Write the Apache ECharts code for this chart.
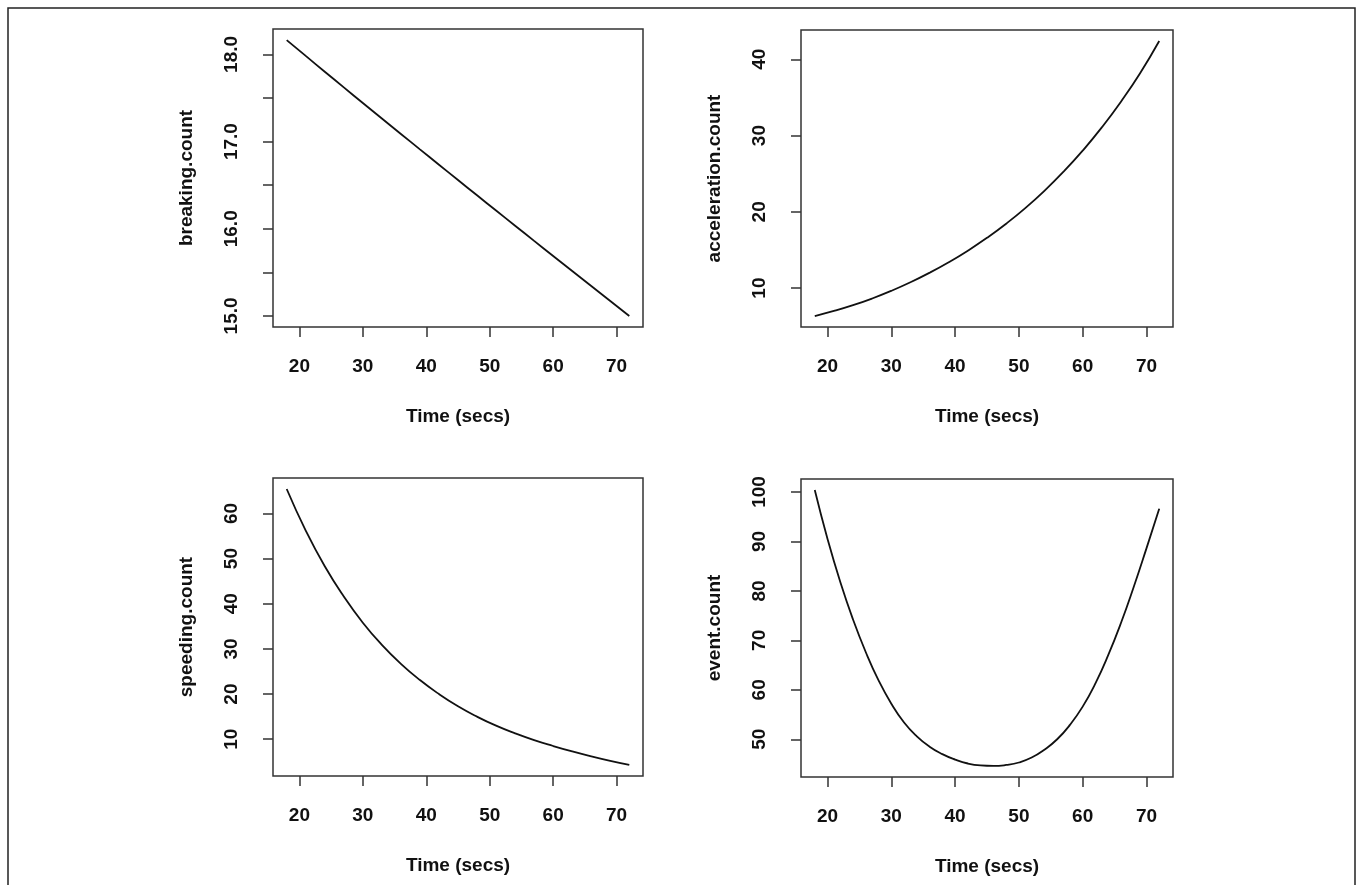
<!DOCTYPE html>
<html>
<head>
<meta charset="utf-8">
<title>count vs time</title>
<script src="https://cdn.jsdelivr.net/npm/echarts@6/dist/echarts.min.js"></script>
<style>
  html, body { margin: 0; padding: 0; background: #fff; }
  #chart { width: 1357px; height: 885px; }
</style>
</head>
<body>
<div id="chart"></div>
<script>
// time points (secs)
const times3 = [18, 21, 24, 27, 30, 33, 36, 39, 42, 45, 48, 51, 54, 57, 60, 63, 66, 69, 72]
const times2 = [18, 20, 22, 24, 26, 28, 30, 32, 34, 36, 38, 40, 42, 44, 46, 48, 50, 52, 54, 56, 58, 60, 62, 64, 66, 68, 70, 72]

// values
const breakingCount = [18.165, 17.983, 17.802, 17.622, 17.443, 17.265, 17.088, 16.911, 16.735, 16.559, 16.384, 16.209, 16.035, 15.861, 15.688, 15.515, 15.343, 15.171, 15.000]
const accelerationCount = [6.34, 7.00, 7.76, 8.64, 9.64, 10.76, 12.01, 13.39, 14.91, 16.59, 18.44, 20.49, 22.76, 25.26, 28.02, 31.07, 34.44, 38.17, 42.40]
const speedingCount = [65.4, 56.2, 48.3, 41.6, 35.8, 30.9, 26.7, 23.1, 20.0, 17.3, 15.0, 13.0, 11.3, 9.8, 8.5, 7.3, 6.2, 5.2, 4.3]
const eventCount = [100.4, 90.5, 81.8, 74.2, 67.6, 61.9, 57.2, 53.4, 50.6, 48.5, 47.0, 45.9, 45.1, 44.7, 44.6, 44.8, 45.3, 46.3, 47.9, 50.0, 52.9, 56.6, 61.3, 67.0, 73.5, 80.8, 88.6, 96.6]

// tick positions
const xTicks = [20, 30, 40, 50, 60, 70]
const breakingTicks = [15, 15.5, 16, 16.5, 17, 17.5, 18]
const breakingLabels = [15, 16, 17, 18]
const accelerationTicks = [10, 20, 30, 40]
const speedingTicks = [10, 20, 30, 40, 50, 60]
const eventTicks = [50, 60, 70, 80, 90, 100]

const FONT = '"Liberation Sans", Arial, sans-serif'
const INK = '#111'

const chartInstance = echarts.init(document.getElementById('chart'))

// one panel = grid + x axis + y axis + line
const panels = [
  { grid: { left: 273, top: 29, width: 370, height: 298 }, name: 'breaking.count', x: times3, y: breakingCount, ymin: 14.873, ymax: 18.292, ticks: breakingTicks, labels: breakingLabels, digits: 1 },
  { grid: { left: 801, top: 30, width: 372, height: 297 }, name: 'acceleration.count', x: times3, y: accelerationCount, ymin: 4.90, ymax: 43.84, ticks: accelerationTicks, labels: accelerationTicks, digits: 0 },
  { grid: { left: 273, top: 478, width: 370, height: 298 }, name: 'speeding.count', x: times3, y: speedingCount, ymin: 1.86, ymax: 67.84, ticks: speedingTicks, labels: speedingTicks, digits: 0 },
  { grid: { left: 801, top: 479, width: 372, height: 298 }, name: 'event.count', x: times2, y: eventCount, ymin: 42.37, ymax: 102.63, ticks: eventTicks, labels: eventTicks, digits: 0 }
]

const tickStyle = { show: true, inside: false, length: 10, lineStyle: { color: '#333', width: 1.5 } }
const labelText = { color: INK, fontSize: 19, fontWeight: 'bold', fontFamily: FONT }

const option = {
  backgroundColor: '#fff',
  animation: false,
  graphic: [
    {
      // outer frame of the figure
      type: 'rect',
      shape: { x: 8, y: 8, width: 1347, height: 900 },
      style: { fill: 'none', stroke: '#222', lineWidth: 1.5 }
    }
  ],
  grid: panels.map((p) => Object.assign({ show: true, borderColor: '#333', borderWidth: 1.5, backgroundColor: 'transparent' }, p.grid)),
  xAxis: panels.map((p, i) => ({
    type: 'value',
    gridIndex: i,
    min: 15.84,
    max: 74.16,
    name: 'Time (secs)',
    nameLocation: 'middle',
    nameGap: 80,
    nameTextStyle: labelText,
    axisLine: { show: false },
    splitLine: { show: false },
    axisTick: Object.assign({ customValues: xTicks }, tickStyle),
    axisLabel: Object.assign({ customValues: xTicks, margin: 30 }, labelText)
  })),
  yAxis: panels.map((p, i) => ({
    type: 'value',
    gridIndex: i,
    min: p.ymin,
    max: p.ymax,
    name: p.name,
    nameLocation: 'middle',
    nameGap: 77,
    nameTextStyle: labelText,
    axisLine: { show: false },
    splitLine: { show: false },
    axisTick: Object.assign({ customValues: p.ticks }, tickStyle),
    axisLabel: Object.assign({
      customValues: p.labels,
      rotate: 90,
      margin: 32,
      formatter: (v) => Number(v).toFixed(p.digits)
    }, labelText)
  })),
  series: panels.map((p, i) => ({
    type: 'line',
    xAxisIndex: i,
    yAxisIndex: i,
    smooth: true,
    showSymbol: false,
    lineStyle: { color: '#111', width: 1.8 },
    data: p.x.map((t, k) => [t, p.y[k]])
  }))
}

chartInstance.setOption(option)
</script>
</body>
</html>
